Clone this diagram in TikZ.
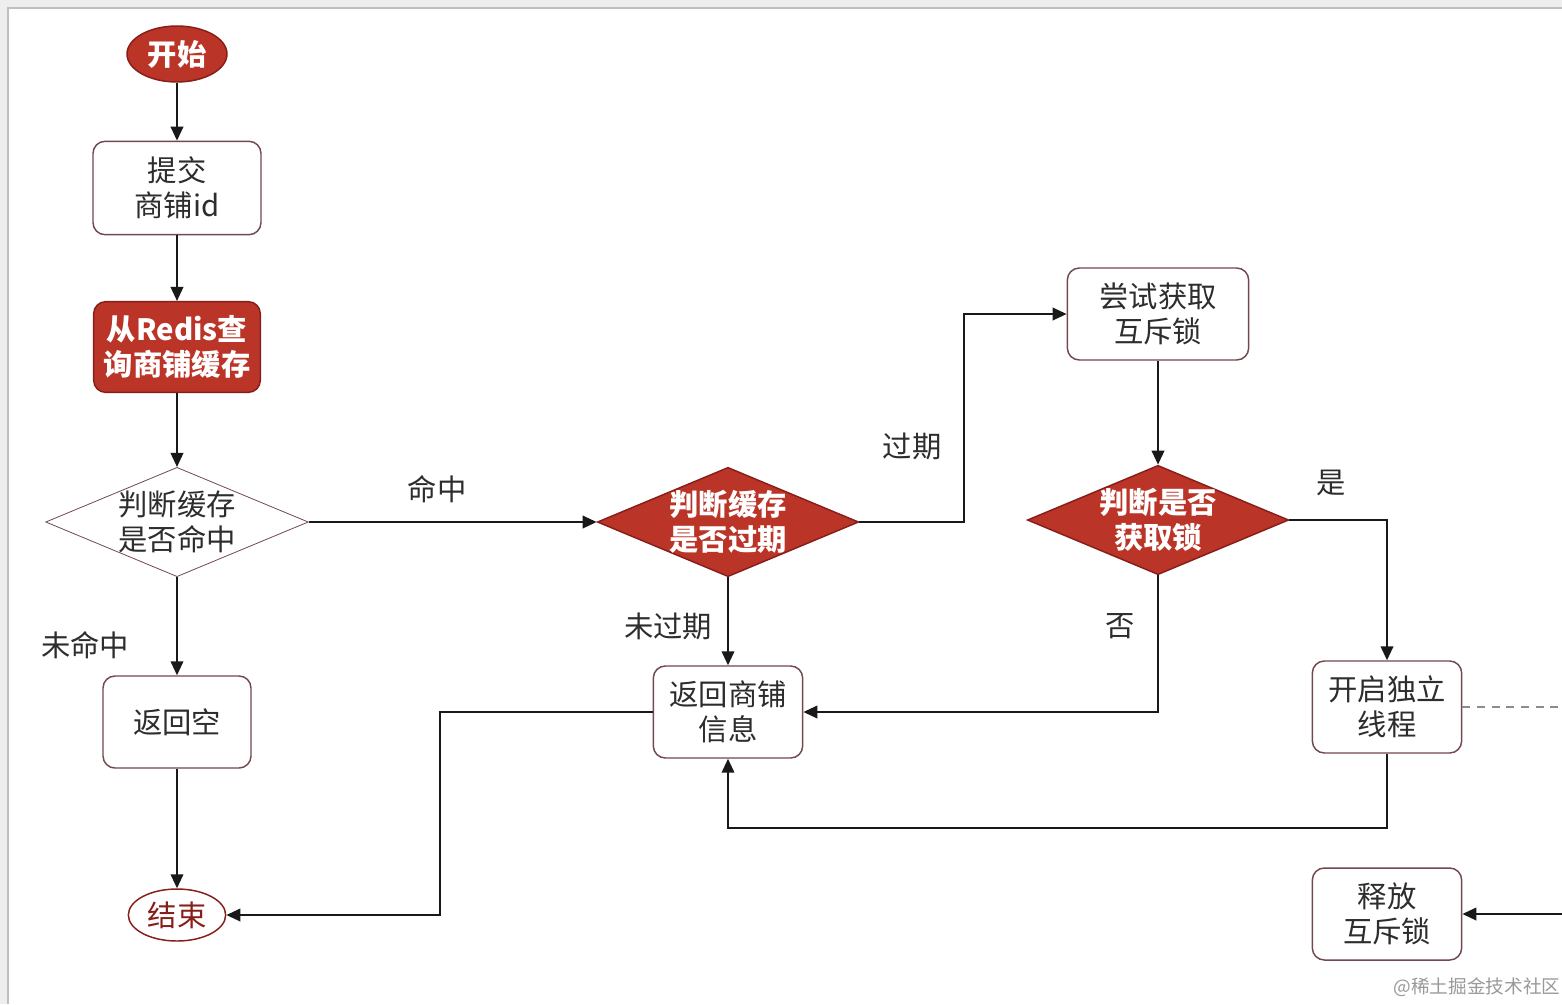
\documentclass[tikz,border=0pt]{standalone}
\usepackage{fontspec}
\usepackage{tikz}
\usetikzlibrary{shapes,arrows.meta}
\newfontfamily\cjk{Noto Sans CJK SC}

\definecolor{redfill}{RGB}{187,52,40}
\definecolor{redline}{RGB}{135,30,25}
\definecolor{boxline}{RGB}{115,72,78}
\definecolor{txt}{RGB}{45,45,45}
\definecolor{frame}{RGB}{238,238,238}

\tikzset{
  base/.style={align=center, font=\cjk\fontsize{22}{26}\selectfont, text=txt, line width=1.1pt},
  box/.style={base, rectangle, rounded corners=9pt, draw=boxline, fill=white, minimum width=112pt, minimum height=69pt, inner sep=2pt},
  redbox/.style={box, draw=redline, fill=redfill, text=white, font=\cjk\bfseries\fontsize{22}{26}\selectfont},
  cond/.style={base, diamond, aspect=2.4, inner sep=-5pt, minimum width=196pt, minimum height=82pt, draw=boxline, line width=0.6pt, fill=white},
  redcond/.style={cond, draw=redline, line width=1.1pt, fill=redfill, text=white, font=\cjk\bfseries\fontsize{22}{26}\selectfont},
  term/.style={base, ellipse, inner sep=0pt, minimum width=74pt, minimum height=40pt},
  line/.style={line width=1.3pt, draw=black!90},
  arr/.style={line, -{Triangle[length=10.5pt,width=9.5pt]}},
  lbl/.style={font=\cjk\fontsize{22}{26}\selectfont, text=txt, inner sep=0pt}
}

\begin{document}
\begin{tikzpicture}[x=0.75pt,y=0.75pt,yscale=-1,xscale=1]
    \useasboundingbox (0,0) rectangle (1562,1004);
    % screen frame
    \fill [frame] (0,0) rectangle (1562,1004);
    \fill [white] (8,8) rectangle (1562,1004);
    \draw [black!25, line width=0.8pt] (8,1004) -- (8,8) -- (1562,8);

    % Start / end
    \node (start) [term, draw=redline, fill=redfill, text=white, font=\cjk\bfseries\fontsize{22}{26}\selectfont, minimum width=75pt, minimum height=42pt] at (177,54) {开始};
    \node (finish) [term, draw=redline, fill=white, text=redline, minimum width=73pt, minimum height=39pt] at (177,915) {结束};

    % Boxes
    \node (submit) [box, minimum width=126pt, minimum height=70pt] at (177,188) {提交\\商铺id};
    \node (query) [redbox, minimum width=125pt, minimum height=68pt] at (177,347) {从Redis查\\询商铺缓存};
    \node (retnull) [box, minimum width=111pt] at (177,722) {返回空};
    \node (retshop) [box] at (728,712) {返回商铺\\信息};
    \node (trylock) [box, minimum width=136pt] at (1158,314) {尝试获取\\互斥锁};
    \node (thread) [box] at (1387,707) {开启独立\\线程};
    \node (unlock) [box] at (1387,914) {释放\\互斥锁};

    % Decisions
    \node (ishit) [cond, minimum width=197pt] at (177,522) {判断缓存\\是否命中};
    \node (isexp) [redcond] at (728,522) {判断缓存\\是否过期};
    \node (islock) [redcond] at (1158,520) {判断是否\\获取锁};

    % Off-page ends
    \coordinate (offthread) at (1562,707);
    \coordinate (offunlock) at (1562,914);

    % Connectors
    \draw [arr] (start) -- (submit);
    \draw [arr] (submit) -- (query);
    \draw [arr] (query) -- (ishit);
    \draw [arr] (ishit) -- (isexp);
    \draw [arr] (ishit) -- (retnull);
    \draw [arr] (retnull) -- (finish);
    \draw [arr] (isexp.east) -- (964,522) |- (trylock.west);
    \draw [arr] (isexp) -- (retshop);
    \draw [arr] (retshop.west) -- (440,712) |- (finish.east);
    \draw [arr] (trylock) -- (islock);
    \draw [arr] (islock.south) |- (retshop.east);
    \draw [arr] (islock.east) -| (thread.north);
    \draw [arr] (thread.south) -- (1387,828) -| (retshop.south);
    \draw [black!45, line width=0.9pt, dash pattern={on 6pt off 5pt}] (thread.east) -- (offthread);
    \draw [arr] (offunlock) -- (unlock.east);

    % Text Node
    \node (lhit) [lbl] at (437,489) {命中};
    % Text Node
    \node (lmiss) [lbl] at (85,645) {未命中};
    % Text Node
    \node (lexp) [lbl] at (912,446) {过期};
    % Text Node
    \node (lnoexp) [lbl] at (668,626) {未过期};
    % Text Node
    \node (lno) [lbl] at (1120,626) {否};
    % Text Node
    \node (lyes) [lbl] at (1331,483) {是};
    % Text Node
    \node (mark) [font=\cjk\fontsize{14}{16}\selectfont, text=black!40, inner sep=0pt] at (1477,987) {@稀土掘金技术社区};
\end{tikzpicture}
\end{document}
